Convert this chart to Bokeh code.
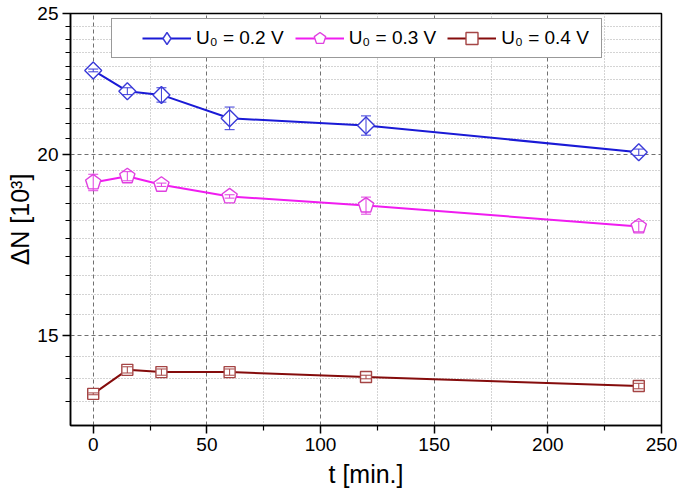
import numpy as np
from bokeh.plotting import figure
from bokeh.models import (FixedTicker, PrintfTickFormatter, Whisker, TeeHead,
                          ColumnDataSource, Legend, LegendItem, Range1d)
from bokeh.embed import file_html
from bokeh.resources import INLINE

# ---- data ----
t_min = [0, 15, 30, 60, 120, 240]
n_02 = [22.84, 22.10, 21.97, 21.17, 20.93, 20.06]
err_02 = [0.05, 0.12, 0.25, 0.38, 0.32, 0.10]
n_03 = [19.12, 19.31, 19.05, 18.70, 18.43, 17.83]
err_03 = [0.25, 0.14, 0.05, 0.05, 0.25, 0.15]
n_04 = [13.67, 14.20, 14.15, 14.15, 14.04, 13.84]
err_04 = [0.02, 0.07, 0.07, 0.07, 0.04, 0.06]

labels = ["U\u2080 = 0.2 V", "U\u2080 = 0.3 V", "U\u2080 = 0.4 V"]
x_major = [0, 50, 100, 150, 200, 250]
x_minor = [25, 75, 125, 175, 225]
y_major = [15, 20, 25]
y_minor = [13.5, 14, 14.5, 15.5, 16, 16.5, 17, 17.5, 18, 18.5, 19, 19.5,
           20.5, 21, 21.5, 22, 22.5, 23, 23.5, 24, 24.5]

FONT = "Liberation Sans"

p = figure(width=677, height=495, y_axis_type="log",
           x_range=Range1d(-10, 250), y_range=Range1d(13, 25),
           output_backend="svg", toolbar_location=None,
           min_border_left=70, min_border_right=16,
           min_border_top=13, min_border_bottom=70)
p.background_fill_color = "white"
p.border_fill_color = "white"
p.outline_line_color = "black"
p.outline_line_width = 1.5

# axes
p.xaxis.ticker = FixedTicker(ticks=x_major, minor_ticks=x_minor)
p.yaxis.ticker = FixedTicker(ticks=y_major, minor_ticks=y_minor)
p.yaxis.formatter = PrintfTickFormatter(format="%d")
p.xaxis.axis_label = "t [min.]"
p.yaxis.axis_label = "\u0394N [10\u00b3]"
for ax in (p.xaxis[0], p.yaxis[0]):
    ax.axis_line_color = "black"
    ax.axis_line_width = 1.5
    ax.major_tick_line_color = "black"
    ax.major_tick_line_width = 1.5
    ax.minor_tick_line_color = "black"
    ax.minor_tick_line_width = 1.2
    ax.major_tick_in = 0
    ax.major_tick_out = 8
    ax.minor_tick_in = 0
    ax.minor_tick_out = 5
    ax.major_label_text_font = FONT
    ax.major_label_text_font_size = "19px"
    ax.major_label_text_color = "black"
    ax.axis_label_text_font = FONT
    ax.axis_label_text_font_size = "25px"
    ax.axis_label_text_font_style = "normal"
    ax.axis_label_text_color = "black"
p.xaxis.major_label_standoff = 4
p.yaxis.major_label_standoff = 4
p.xaxis.axis_label_standoff = 6
p.yaxis.axis_label_standoff = 0

# grids
p.xgrid.ticker = FixedTicker(ticks=x_major[:-1], minor_ticks=x_minor)
p.ygrid.ticker = FixedTicker(ticks=[15, 20], minor_ticks=y_minor)
for g in (p.xgrid[0], p.ygrid[0]):
    g.grid_line_color = "#707070"
    g.grid_line_dash = "4 3"
    g.grid_line_width = 1
    g.minor_grid_line_color = "#a8a8a8"
    g.minor_grid_line_dash = "1 2"
    g.minor_grid_line_width = 1

series = [
    (n_02, err_02, "#1a1ad6", "#3a3ad8", labels[0]),
    (n_03, err_03, "#f01cf0", "#e040e0", labels[1]),
    (n_04, err_04, "#850c0c", "#a54545", labels[2]),
]

items = []
for i, (vals, errs, lc, mc, lab) in enumerate(series):
    src = ColumnDataSource(dict(t=t_min, n=vals,
                                lo=[v - e for v, e in zip(vals, errs)],
                                hi=[v + e for v, e in zip(vals, errs)]))
    lr = p.line("t", "n", source=src, line_color=lc, line_width=2)
    legend_rs = [lr]
    if i == 0:
        mr = p.scatter("t", "n", source=src, marker="square", angle=np.pi / 4,
                       size=12, fill_color="white", line_color=mc, line_width=1.4)
        # legend-only glyph (no data points): diamond key
        key_src = ColumnDataSource(dict(t=[np.nan], n=[np.nan]))
        kr = p.scatter("t", "n", source=key_src, marker="diamond", size=14,
                       fill_color="white", line_color=mc, line_width=1.4)
        legend_rs.append(kr)
    elif i == 1:
        mr = p.ngon("t", "n", source=src, radius=8, radius_units="screen", n=5,
                    angle=0, fill_color="white", line_color=mc, line_width=1.4)
        legend_rs.append(mr)
    else:
        mr = p.scatter("t", "n", source=src, marker="square", size=11,
                       fill_color="white", line_color=mc, line_width=1.4)
        legend_rs.append(mr)
    w = Whisker(source=src, base="t", lower="lo", upper="hi", dimension="height",
                line_color=mc, line_width=1,
                upper_head=TeeHead(size=10, line_color=mc, line_width=1),
                lower_head=TeeHead(size=10, line_color=mc, line_width=1),
                level="overlay")
    p.add_layout(w)
    items.append(LegendItem(label=lab, renderers=legend_rs))

legend = Legend(items=items, orientation="horizontal", location=(41, 367),
                glyph_width=49, glyph_height=30, label_standoff=5, spacing=11,
                padding=4, margin=0,
                label_text_font=FONT, label_text_font_size="19px",
                label_text_color="black",
                border_line_color="#333333", border_line_width=1,
                background_fill_color="white", background_fill_alpha=1)
try:
    legend.padding = (30, 12, 4, 4)   # left, right, top, bottom
except Exception:
    legend.padding = 4
p.add_layout(legend)

open("out.html", "w").write(file_html(p, INLINE))
